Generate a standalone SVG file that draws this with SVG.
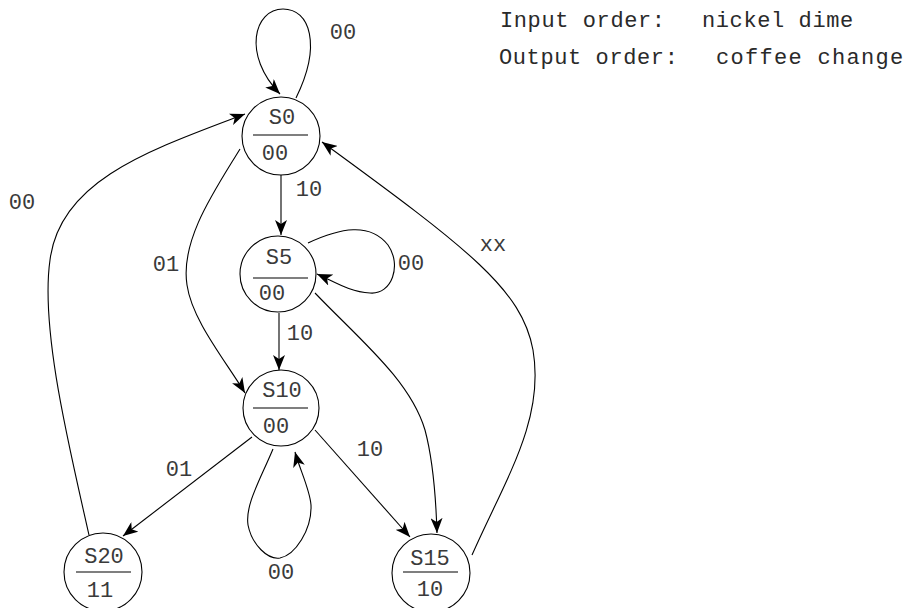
<svg xmlns="http://www.w3.org/2000/svg" width="909" height="608" viewBox="0 0 909 608">
  <style>
    .state { fill: #ffffff; stroke: #000000; stroke-width: 1.1; }
    .bar { stroke: #555555; stroke-width: 1.6; }
    .lbl { font-family: "Liberation Mono", "Courier New", monospace; font-size: 22px; fill: #3a3a3a; text-anchor: middle; }
    .note { font-family: "Liberation Mono", "Courier New", monospace; font-size: 22px; fill: #2a2a2a; letter-spacing: 0.6px; }
    .edge { fill: none; stroke: #000000; stroke-width: 1.1; marker-end: url(#arrow); }
  </style>
  <defs>
    <marker id="arrow" markerUnits="userSpaceOnUse" markerWidth="16" markerHeight="12" refX="15" refY="6" orient="auto">
      <path d="M0,0 L15,6 L0,12 L4,6 z" fill="#000000"/>
    </marker>
  </defs>

  <!-- legend -->
  <g id="legend">
    <text class="note" x="500" y="27">Input order:<tspan x="702">nickel dime</tspan></text>
    <text class="note" x="499" y="64">Output order:<tspan x="716" style="letter-spacing:1.3px">coffee change</tspan></text>
  </g>

  <!-- transitions -->
  <g id="connectors">
    <path class="edge" d="M296,98 C322,45 310,9 283,9 C254,9 242,55 280,94"/>
    <path class="edge" d="M281,175 L281,235"/>
    <path class="edge" d="M240,149 C215,190 180,240 187,285 C192,320 225,360 245,393"/>
    <path class="edge" d="M308,243 C340,228 370,222 388,245 C402,265 392,295 370,293 C350,292 335,282 317,274"/>
    <path class="edge" d="M279,313 L279,370"/>
    <path class="edge" d="M315,293 C360,340 410,380 425,430 C433,460 436,500 437,533"/>
    <path class="edge" d="M315,430 L410,537"/>
    <path class="edge" d="M252,437 L123,536"/>
    <path class="edge" d="M273,449 C260,480 245,505 248,525 C252,545 268,560 280,558 C295,555 312,530 311,505 C310,490 300,470 295,452"/>
    <path class="edge" d="M472,555 C505,480 545,420 533,350 C522,290 470,250 322,142"/>
    <path class="edge" d="M89,535 C70,450 40,330 50,260 C60,180 150,150 245,114"/>
  </g>

  <!-- transition labels -->
  <g id="edge-labels">
    <text class="lbl" x="343" y="39">00</text>
    <text class="lbl" x="309" y="196">10</text>
    <text class="lbl" x="411" y="270">00</text>
    <text class="lbl" x="300" y="340">10</text>
    <text class="lbl" x="370" y="456">10</text>
    <text class="lbl" x="179" y="476">01</text>
    <text class="lbl" x="281" y="579">00</text>
    <text class="lbl" x="493" y="251">xx</text>
    <text class="lbl" x="22" y="209">00</text>
    <text class="lbl" x="166" y="271">01</text>
  </g>

  <!-- states -->
  <g id="S0">
    <circle class="state" cx="281" cy="136" r="39"/>
    <line class="bar" x1="253" y1="135" x2="308" y2="135"/>
    <text class="lbl" x="282" y="124">S0</text>
    <text class="lbl" x="275" y="160">00</text>
  </g>
  <g id="S5">
    <circle class="state" cx="278" cy="274" r="38"/>
    <line class="bar" x1="253" y1="278" x2="308" y2="278"/>
    <text class="lbl" x="279" y="264">S5</text>
    <text class="lbl" x="272" y="300">00</text>
  </g>
  <g id="S10">
    <circle class="state" cx="281" cy="408" r="38"/>
    <line class="bar" x1="253" y1="408" x2="308" y2="408"/>
    <text class="lbl" x="282" y="397">S10</text>
    <text class="lbl" x="276" y="433">00</text>
  </g>
  <g id="S15">
    <circle class="state" cx="431" cy="573" r="39"/>
    <line class="bar" x1="403" y1="572" x2="458" y2="572"/>
    <text class="lbl" x="430" y="565">S15</text>
    <text class="lbl" x="430" y="596">10</text>
  </g>
  <g id="S20">
    <circle class="state" cx="103" cy="572" r="39"/>
    <line class="bar" x1="76" y1="572" x2="131" y2="572"/>
    <text class="lbl" x="104" y="563">S20</text>
    <text class="lbl" x="100" y="597">11</text>
  </g>
</svg>
